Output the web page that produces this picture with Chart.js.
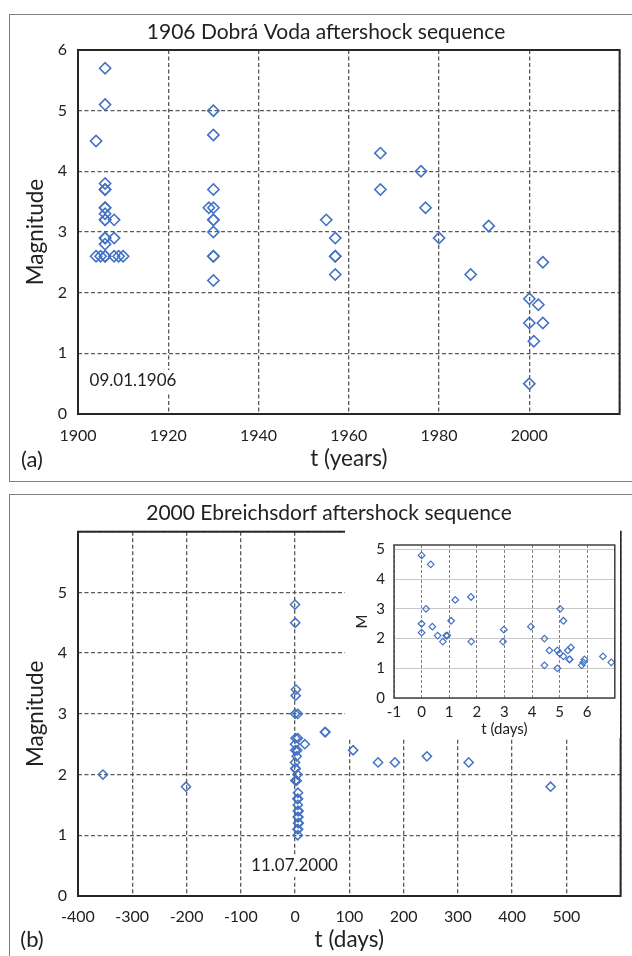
<!DOCTYPE html>
<html>
<head>
<meta charset="utf-8">
<script src="https://cdn.jsdelivr.net/npm/chart.js@4.4.1/dist/chart.umd.min.js"></script>
<style>
  body { margin: 0; background: #fff; width: 632px; height: 956px; overflow: hidden; position: relative; }
  .panel { position: absolute; border: 1.5px solid #7f7f7f; }
  #panelA { left: 9px; top: 14px; width: 640px; height: 466px; }
  #panelB { left: 9px; top: 494px; width: 640px; height: 480px; }
  canvas { position: absolute; }
  #chartA { left: 0; top: 0; }
  #chartB { left: 0; top: 488px; }
  #chartInset { left: 345px; top: 527px; }
</style>
</head>
<body>
<div class="panel" id="panelA"></div>
<div class="panel" id="panelB"></div>
<canvas id="chartA" width="632" height="488"></canvas>
<canvas id="chartB" width="632" height="468"></canvas>
<canvas id="chartInset" width="275" height="211"></canvas>
<script>
// (a) 1906 Dobrá Voda: year of event, magnitude
const yearsA = [1904, 1906, 1906, 1906, 1906, 1906, 1906, 1906, 1906, 1906, 1906, 1906, 1906, 1906, 1906, 1906, 1904, 1905, 1908, 1908, 1908, 1909, 1910,
  1930, 1930, 1930, 1929, 1930, 1930, 1930, 1930, 1930, 1930, 1930,
  1955, 1957, 1957, 1957, 1957,
  1967, 1967, 1976, 1977, 1980, 1987, 1991,
  2000, 2002, 2000, 2003, 2001, 2000, 2003];
const magsA = [4.5, 5.7, 5.1, 3.8, 3.7, 3.7, 3.4, 3.4, 3.3, 3.2, 3.2, 2.9, 2.9, 2.8, 2.6, 2.6, 2.6, 2.6, 3.2, 2.9, 2.6, 2.6, 2.6,
  5.0, 4.6, 3.7, 3.4, 3.4, 3.2, 3.2, 3.0, 2.6, 2.6, 2.2,
  3.2, 2.9, 2.6, 2.6, 2.3,
  4.3, 3.7, 4.0, 3.4, 2.9, 2.3, 3.1,
  1.9, 1.8, 1.5, 1.5, 1.2, 0.5, 2.5];

// (b) 2000 Ebreichsdorf: first week (also shown in the inset)
const daysWeek = [0, 0.33, 0.16, 0, 0, 0.39, 0.58, 0.77, 0.89, 0.93, 1.07, 1.22, 1.79, 1.8, 2.98, 2.95, 3.96, 4.45, 4.45,
  4.63, 4.92, 4.92, 5.0, 5.02, 5.14, 5.14, 5.3, 5.41, 5.36, 5.36, 5.8, 5.86, 5.9, 6.57, 6.87];
const magsWeek = [4.8, 4.5, 3.0, 2.5, 2.2, 2.4, 2.1, 1.9, 2.1, 2.1, 2.6, 3.3, 3.4, 1.9, 2.3, 1.9, 2.4, 2.0, 1.1,
  1.6, 1.6, 1.0, 1.5, 3.0, 2.6, 1.4, 1.6, 1.7, 1.3, 1.3, 1.1, 1.2, 1.3, 1.4, 1.2];
// (b) remaining events, days from the main shock
const daysOther = [-354, -201, 18, 55, 56, 107, 153, 184, 243, 320, 471];
const magsOther = [2.0, 1.8, 2.5, 2.7, 2.7, 2.4, 2.2, 2.2, 2.3, 2.2, 1.8];

const blue = '#4472C4';
const ink = '#222';
Chart.defaults.font.family = 'Lato, sans-serif';
Chart.defaults.color = ink;

const toPoints = (xs, ys) => xs.map((x, i) => ({ x: x, y: ys[i] }));
const plain = v => String(v);

// frame around the plot area and free texts
const frame = {
  id: 'frame',
  beforeDraw(chart, args, opts) {
    if (!opts.fill) return;
    const ctx = chart.ctx;
    ctx.save();
    ctx.fillStyle = opts.fill;
    ctx.fillRect(0, 0, chart.width, chart.height);
    ctx.restore();
  },
  afterDraw(chart, args, opts) {
    const { ctx, chartArea: a } = chart;
    ctx.save();
    ctx.strokeStyle = opts.color;
    ctx.lineWidth = opts.width;
    ctx.strokeRect(a.left, a.top, a.right - a.left, a.bottom - a.top);
    (opts.texts || []).forEach(t => {
      ctx.font = t.font;
      ctx.textAlign = 'center';
      ctx.textBaseline = 'middle';
      if (t.bg) {
        const w = ctx.measureText(t.text).width + 8;
        ctx.fillStyle = '#fff';
        ctx.fillRect(t.x - w / 2, t.y - 11, w, 22);
      }
      ctx.fillStyle = ink;
      ctx.fillText(t.text, t.x, t.y);
    });
    ctx.restore();
  }
};

function mainScales(xMin, xMax, xStep, xTitle, titlePadBottom, xTickPad, axisH, showTopY) {
  return {
    x: {
      type: 'linear', min: xMin, max: xMax,
      ticks: { stepSize: xStep, padding: xTickPad, font: { size: 16 },
        callback: v => (v === xMax ? '' : plain(v)) },
      grid: { color: '#595959', lineWidth: 1.3, drawTicks: false },
      border: { display: false, dash: [4, 2.5] },
      title: { display: true, text: xTitle, font: { size: 22.5 }, padding: { top: 0, bottom: titlePadBottom } },
      afterFit: s => { s.height = axisH; }
    },
    y: {
      min: 0, max: 6,
      ticks: { stepSize: 1, padding: 11, font: { size: 16 },
        callback: v => (v === 6 && !showTopY ? '' : plain(v)) },
      grid: { color: '#595959', lineWidth: 1.3, drawTicks: false },
      border: { display: false, dash: [4, 2.5] },
      title: { display: true, text: 'Magnitude', font: { size: 22.5 }, padding: { top: 22.5, bottom: 0 } },
      afterFit: s => { s.width = 78; }
    }
  };
}

new Chart(document.getElementById('chartA'), {
  type: 'scatter',
  data: { datasets: [{ data: toPoints(yearsA, magsA), pointStyle: 'rectRot', pointRadius: 5.6,
    borderColor: blue, backgroundColor: 'rgba(0,0,0,0)', borderWidth: 1.6 }] },
  options: {
    responsive: false, animation: false,
    layout: { padding: { left: 0, right: 10.3, top: 50, bottom: 0 } },
    plugins: {
      legend: { display: false }, tooltip: { enabled: false },
      frame: { color: '#262626', width: 2, texts: [
        { text: '1906 Dobrá Voda aftershock sequence', x: 326, y: 32, font: '21px Lato' },
        { text: '09.01.1906', x: 133, y: 381, font: '17px Lato', bg: true },
        { text: '(a)', x: 32, y: 460, font: '22px Lato' }
      ] }
    },
    scales: mainScales(1900, 2020, 20, 't (years)', 15.5, 12.4, 74, true)
  },
  plugins: [frame]
});

new Chart(document.getElementById('chartB'), {
  type: 'scatter',
  data: { datasets: [
    { data: toPoints(daysWeek, magsWeek), pointStyle: 'rectRot', pointRadius: 4.6,
      borderColor: blue, backgroundColor: 'rgba(0,0,0,0)', borderWidth: 1.5 },
    { data: toPoints(daysOther, magsOther), pointStyle: 'rectRot', pointRadius: 4.6,
      borderColor: blue, backgroundColor: 'rgba(0,0,0,0)', borderWidth: 1.5 }
  ] },
  options: {
    responsive: false, animation: false,
    layout: { padding: { left: 0, right: 10.3, top: 43.7, bottom: 0 } },
    plugins: {
      legend: { display: false }, tooltip: { enabled: false },
      frame: { color: '#262626', width: 2, texts: [
        { text: '2000 Ebreichsdorf aftershock sequence', x: 329, y: 25, font: '21px Lato' },
        { text: '11.07.2000', x: 294.5, y: 378, font: '17px Lato', bg: true },
        { text: '(b)', x: 32, y: 452, font: '22px Lato' }
      ] }
    },
    scales: mainScales(-400, 600, 100, 't (days)', 2.5, 11.4, 60, false)
  },
  plugins: [frame]
});

new Chart(document.getElementById('chartInset'), {
  type: 'scatter',
  data: { datasets: [{ data: toPoints(daysWeek, magsWeek), pointStyle: 'rectRot', pointRadius: 3.3,
    borderColor: blue, backgroundColor: 'rgba(0,0,0,0)', borderWidth: 1.2 }] },
  options: {
    responsive: false, animation: false,
    layout: { padding: { left: 0, right: 5, top: 11, bottom: 0 } },
    plugins: {
      legend: { display: false }, tooltip: { enabled: false },
      frame: { color: '#404040', width: 1.5, fill: '#fff' }
    },
    scales: {
      x: {
        type: 'linear', min: -1, max: 7,
        ticks: { stepSize: 1, padding: 4.8, font: { size: 15 }, callback: v => (v === 7 ? '' : plain(v)) },
        grid: { color: '#7f7f7f', lineWidth: 1, drawTicks: false },
        border: { display: false, dash: [3, 2] },
        title: { display: true, text: 't (days)', font: { size: 15 }, padding: { top: 0, bottom: 0 } },
        afterFit: s => { s.height = 40; }
      },
      y: {
        min: 0, max: 5.15,
        afterBuildTicks: s => { s.ticks = [0, 1, 2, 3, 4, 5].map(v => ({ value: v })); },
        ticks: { padding: 9, font: { size: 15 }, callback: plain },
        grid: { color: '#c8c8c8', lineWidth: 1, drawTicks: false },
        border: { display: false },
        title: { display: true, text: 'M', font: { size: 15 }, padding: { top: 7.7, bottom: 0 } },
        afterFit: s => { s.width = 49; }
      }
    }
  },
  plugins: [frame]
});
</script>
</body>
</html>
